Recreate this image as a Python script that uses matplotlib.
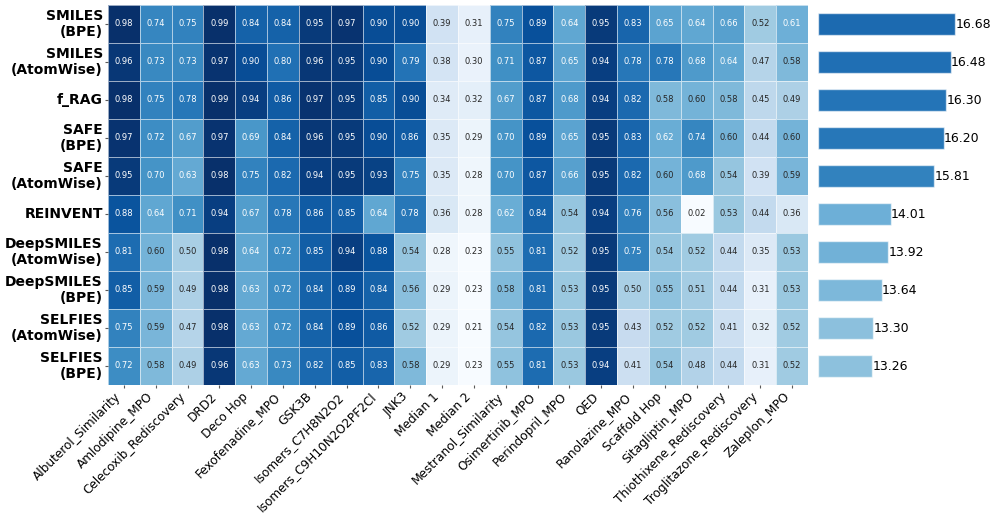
import numpy as np
import matplotlib
matplotlib.use("Agg")
import matplotlib.pyplot as plt
import seaborn as sns
from matplotlib.colors import Normalize

tasks = ["Albuterol_Similarity", "Amlodipine_MPO", "Celecoxib_Rediscovery", "DRD2",
         "Deco Hop", "Fexofenadine_MPO", "GSK3B", "Isomers_C7H8N2O2",
         "Isomers_C9H10N2O2PF2Cl", "JNK3", "Median 1", "Median 2",
         "Mestranol_Similarity", "Osimertinib_MPO", "Perindopril_MPO", "QED",
         "Ranolazine_MPO", "Scaffold Hop", "Sitagliptin_MPO",
         "Thiothixene_Rediscovery", "Troglitazone_Rediscovery", "Zaleplon_MPO"]

methods = ["SMILES\n(BPE)", "SMILES\n(AtomWise)", "f_RAG", "SAFE\n(BPE)", "SAFE\n(AtomWise)",
           "REINVENT", "DeepSMILES\n(AtomWise)", "DeepSMILES\n(BPE)",
           "SELFIES\n(AtomWise)", "SELFIES\n(BPE)"]

smiles_bpe = [0.98, 0.74, 0.75, 0.99, 0.84, 0.84, 0.95, 0.97, 0.90, 0.90,
              0.39, 0.31, 0.75, 0.89, 0.64, 0.95, 0.83, 0.65, 0.64, 0.66, 0.52, 0.61]
smiles_atom = [0.96, 0.73, 0.73, 0.97, 0.90, 0.80, 0.96, 0.95, 0.90, 0.79,
               0.38, 0.30, 0.71, 0.87, 0.65, 0.94, 0.78, 0.78, 0.68, 0.64, 0.47, 0.58]
f_rag = [0.98, 0.75, 0.78, 0.99, 0.94, 0.86, 0.97, 0.95, 0.85, 0.90,
         0.34, 0.32, 0.67, 0.87, 0.68, 0.94, 0.82, 0.58, 0.60, 0.58, 0.45, 0.49]
safe_bpe = [0.97, 0.72, 0.67, 0.97, 0.69, 0.84, 0.96, 0.95, 0.90, 0.86,
            0.35, 0.29, 0.70, 0.89, 0.65, 0.95, 0.83, 0.62, 0.74, 0.60, 0.44, 0.60]
safe_atom = [0.95, 0.70, 0.63, 0.98, 0.75, 0.82, 0.94, 0.95, 0.93, 0.75,
             0.35, 0.28, 0.70, 0.87, 0.66, 0.95, 0.82, 0.60, 0.68, 0.54, 0.39, 0.59]
reinvent = [0.88, 0.64, 0.71, 0.94, 0.67, 0.78, 0.86, 0.85, 0.64, 0.78,
            0.36, 0.28, 0.62, 0.84, 0.54, 0.94, 0.76, 0.56, 0.02, 0.53, 0.44, 0.36]
deepsmiles_atom = [0.81, 0.60, 0.50, 0.98, 0.64, 0.72, 0.85, 0.94, 0.88, 0.54,
                   0.28, 0.23, 0.55, 0.81, 0.52, 0.95, 0.75, 0.54, 0.52, 0.44, 0.35, 0.53]
deepsmiles_bpe = [0.85, 0.59, 0.49, 0.98, 0.63, 0.72, 0.84, 0.89, 0.84, 0.56,
                  0.29, 0.23, 0.58, 0.81, 0.53, 0.95, 0.50, 0.55, 0.51, 0.44, 0.31, 0.53]
selfies_atom = [0.75, 0.59, 0.47, 0.98, 0.63, 0.72, 0.84, 0.89, 0.86, 0.52,
                0.29, 0.21, 0.54, 0.82, 0.53, 0.95, 0.43, 0.52, 0.52, 0.41, 0.32, 0.52]
selfies_bpe = [0.72, 0.58, 0.49, 0.96, 0.63, 0.73, 0.82, 0.85, 0.83, 0.58,
               0.29, 0.23, 0.55, 0.81, 0.53, 0.94, 0.41, 0.54, 0.48, 0.44, 0.31, 0.52]

totals = [16.68, 16.48, 16.30, 16.20, 15.81, 14.01, 13.92, 13.64, 13.30, 13.26]

data = np.array([smiles_bpe, smiles_atom, f_rag, safe_bpe, safe_atom, reinvent,
                 deepsmiles_atom, deepsmiles_bpe, selfies_atom, selfies_bpe])

fig = plt.figure(figsize=(9.97, 5.2), dpi=100)
ax = fig.add_axes([108 / 997, 1 - 385 / 520, 700 / 997, 380 / 520])
sns.heatmap(data, ax=ax, cmap="Blues", robust=True, annot=True, fmt=".2f",
            annot_kws={"fontsize": 6}, linewidths=0.5, linecolor=(1, 1, 1, 0.6),
            cbar=False, xticklabels=tasks, yticklabels=methods)
ax.set_yticklabels(methods, rotation=0, fontsize=10, fontweight="bold")
ax.set_xticklabels(tasks, rotation=45, ha="right", fontsize=8.7)
ax.tick_params(axis="both", which="major", left=True, bottom=True,
               length=2.2, width=0.8, pad=1.5, color="0.35")

bax = fig.add_axes([817.5 / 997, 1 - 385 / 520, 170 / 997, 380 / 520])
norm = Normalize(9.3, 18.8)
cmap = plt.get_cmap("Blues")
ypos = np.arange(len(totals)) + 0.5
bax.barh(ypos, [t - 11 for t in totals], left=11, height=0.6,
         color=[cmap(norm(t)) for t in totals], edgecolor=(1, 1, 1, 0.6), linewidth=1)
for y, t in zip(ypos, totals):
    bax.text(t, y, f"{t:.2f}", va="center", ha="left", fontsize=9)
bax.set_xlim(11, 18)
bax.set_ylim(len(totals), 0)
bax.axis("off")

fig.savefig("out.png", dpi=100)
